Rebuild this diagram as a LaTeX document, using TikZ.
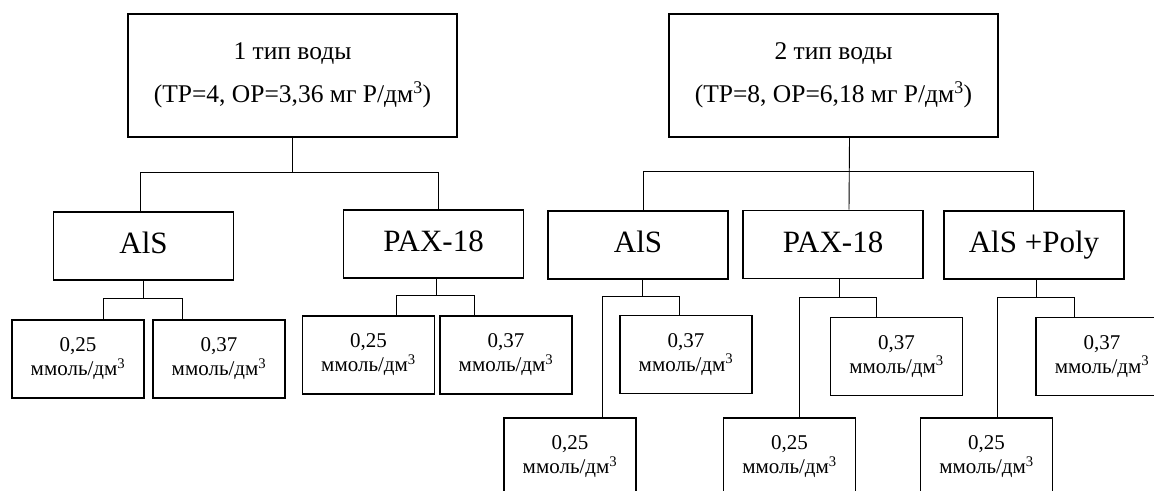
\documentclass[tikz,border=0pt]{standalone}
\usepackage{fontspec}
\setmainfont{Liberation Serif}
\usepackage{tikz}

\newcommand{\dose}[1]{#1\\ммоль/дм\textsuperscript{3}}

\begin{document}
\begin{tikzpicture}[x=1pt,y=-1pt,
    box/.style={draw,line width=1.8pt,inner sep=0pt,align=center},
    topbox/.style={box,minimum width=329pt,minimum height=123pt,font=\fontsize{25.5}{43}\selectfont},
    midbox/.style={box,minimum width=180pt,minimum height=68pt,text height=22pt,text depth=7pt,font=\fontsize{31}{34}\selectfont},
    dosebox/.style={box,minimum width=132pt,minimum height=78pt,font=\fontsize{21}{24}\selectfont},
    link/.style={line width=0.9pt}]
    \useasboundingbox (0,0) rectangle (1154,490);
    \clip (0,0) rectangle (1154,490);

    % Water types
    \node[topbox] (t1) at (292.5,75.5) {1 тип воды\\(TP=4, OP=3,36 мг P/дм\textsuperscript{3})};
    \node[topbox] (t2) at (833.5,75.5) {2 тип воды\\(TP=8, OP=6,18 мг P/дм\textsuperscript{3})};

    % Coagulants
    \node[midbox] (a1) at (143.5,246) {AlS};
    \node[midbox] (p1) at (433.5,244) {PAX-18};
    \node[midbox] (a2) at (638,245) {AlS};
    \node[midbox] (p2) at (833,244.5) {PAX-18};
    \node[midbox] (ap2) at (1034,245) {AlS +Poly};

    % Doses
    \node[dosebox] (a1l) at (78,359) {\dose{0,25}};
    \node[dosebox] (a1r) at (219,359) {\dose{0,37}};
    \node[dosebox] (p1l) at (368.5,355) {\dose{0,25}};
    \node[dosebox] (p1r) at (506,355) {\dose{0,37}};
    \node[dosebox] (a2r) at (686,354.5) {\dose{0,37}};
    \node[dosebox] (a2l) at (570,457) {\dose{0,25}};
    \node[dosebox] (p2r) at (896.5,356.5) {\dose{0,37}};
    \node[dosebox] (p2l) at (789.5,457) {\dose{0,25}};
    \node[dosebox] (ap2r) at (1102,356.5) {\dose{0,37}};
    \node[dosebox] (ap2l) at (986.5,457) {\dose{0,25}};

    % Links from water types
    \draw[link] (t1.south) -- ++(0,35) coordinate (j1);
    \draw[link] ([xshift=-3.5pt]a1.north) |- (j1) -| ([xshift=4.5pt]p1.north);
    \draw[link] ([xshift=16pt]t2.south) -- ([xshift=16pt]p2.north);
    \coordinate (j2) at ([xshift=16pt,yshift=-34pt]t2.south);
    \draw[link] ([xshift=5pt]a2.north) |- (j2) -| ([xshift=-1pt]ap2.north);

    % Links to doses
    \draw[link] (a1.south) -- ++(0,18) coordinate (ja1);
    \draw[link] ([xshift=25pt]a1l.north) |- (ja1) -| ([xshift=-37pt]a1r.north);
    \draw[link] ([xshift=2.5pt]p1.south) -- ++(0,17) coordinate (jp1);
    \draw[link] ([xshift=27.5pt]p1l.north) |- (jp1) -| ([xshift=-32pt]p1r.north);
    \draw[link] ([xshift=4pt]a2.south) -- ++(0,17) coordinate (ja2);
    \draw[link] ([xshift=32pt]a2l.north) |- (ja2) -| ([xshift=-7pt]a2r.north);
    \draw[link] ([xshift=6pt]p2.south) -- ++(0,18) coordinate (jp2);
    \draw[link] ([xshift=10pt]p2l.north) |- (jp2) -| ([xshift=-20.5pt]p2r.north);
    \draw[link] ([xshift=2pt]ap2.south) -- ++(0,18) coordinate (jap2);
    \draw[link] ([xshift=10.5pt]ap2l.north) |- (jap2) -| ([xshift=-28pt]ap2r.north);
\end{tikzpicture}
\end{document}
